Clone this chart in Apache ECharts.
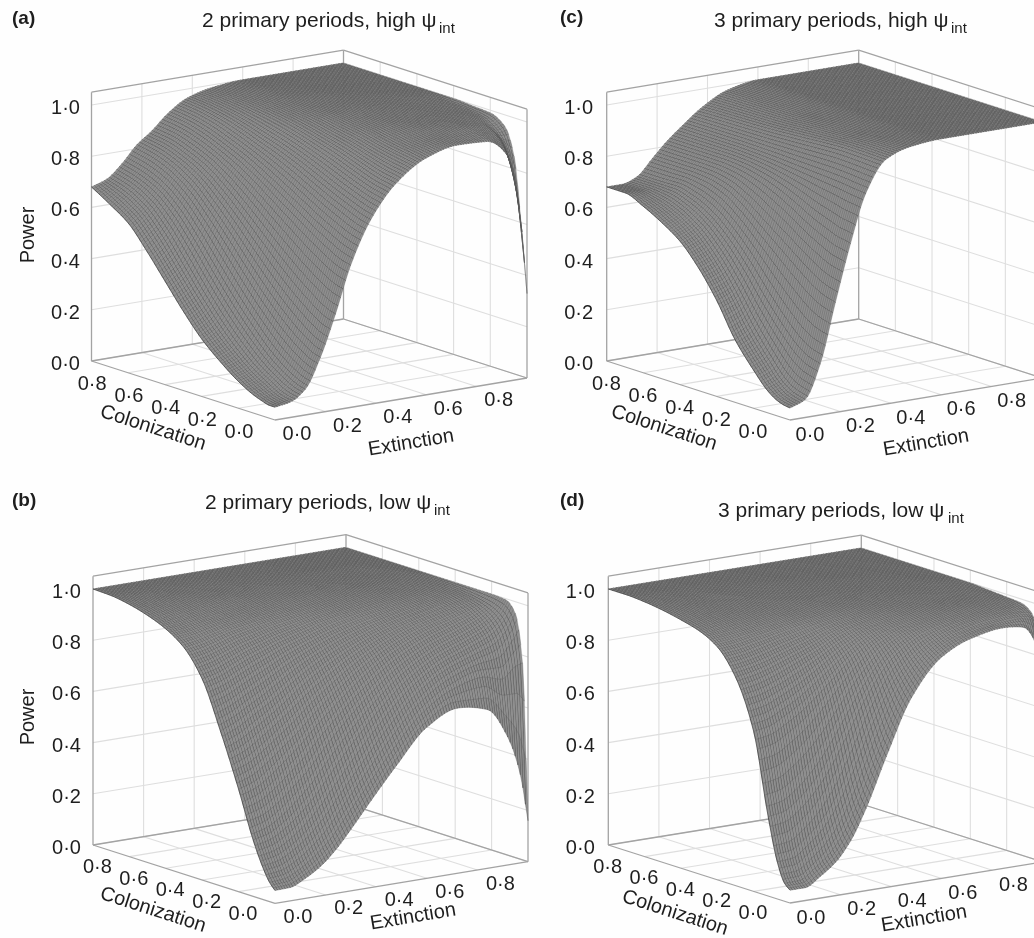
<!DOCTYPE html>
<html><head><meta charset="utf-8">
<style>html,body{margin:0;padding:0;background:#fff}#c{width:1034px;height:938px}</style>
<script src="https://cdn.jsdelivr.net/npm/echarts@6/dist/echarts.min.js"></script>
</head><body><div id="c"></div>
<script>
const extinctionSamples = [0,.06,.12,.18,.24,.3,.38,.48,.6,.72,.84,.92,.97,1];
const colonizationSamples = [0,.03,.07,.12,.2,.3,.4,.5,.6,.7,.8,.9,1];
// One row per extinction sample, one column per colonization sample
const powerA = [
[.05,.05,.058,.072,.105,.16,.225,.31,.405,.50,.585,.635,.68],
[.06,.062,.07,.09,.125,.185,.26,.35,.45,.55,.63,.675,.70],
[.10,.105,.118,.14,.185,.26,.345,.44,.54,.63,.695,.73,.75],
[.215,.22,.235,.26,.31,.385,.47,.56,.645,.72,.77,.80,.815],
[.375,.38,.395,.42,.465,.53,.60,.67,.735,.79,.825,.85,.86],
[.555,.56,.57,.59,.625,.675,.725,.775,.82,.855,.885,.905,.915],
[.72,.725,.735,.75,.775,.81,.845,.875,.90,.925,.945,.958,.965],
[.845,.85,.855,.865,.885,.91,.93,.95,.965,.975,.982,.987,.99],
[.925,.93,.935,.94,.95,.965,.975,.985,.99,.995,.998,1,1],
[.955,.96,.965,.97,.98,.985,.99,.995,.998,1,1,1,1],
[.95,.96,.97,.98,.985,.99,.995,.998,1,1,1,1,1],
[.885,.92,.95,.97,.985,.99,.995,1,1,1,1,1,1],
[.665,.78,.89,.945,.98,.99,.995,1,1,1,1,1,1],
[.33,.58,.85,.955,.99,.995,1,1,1,1,1,1,1]];
const powerB = [
[.05,.075,.13,.22,.40,.605,.785,.885,.935,.965,.985,.997,1],
[.052,.08,.14,.235,.42,.63,.80,.895,.94,.97,.987,.997,1],
[.078,.108,.17,.27,.46,.665,.825,.91,.95,.975,.99,.998,1],
[.115,.15,.215,.32,.51,.70,.85,.925,.958,.98,.992,.998,1],
[.17,.205,.275,.38,.56,.74,.87,.935,.965,.985,.994,.999,1],
[.24,.28,.35,.455,.62,.78,.89,.945,.97,.988,.995,.999,1],
[.34,.38,.45,.55,.69,.825,.91,.955,.977,.99,.997,1,1],
[.46,.505,.57,.655,.77,.87,.935,.967,.985,.993,.998,1,1],
[.59,.635,.695,.76,.845,.91,.955,.977,.99,.996,.999,1,1],
[.645,.71,.775,.83,.895,.94,.97,.985,.993,.997,1,1,1],
[.62,.74,.82,.875,.93,.965,.982,.99,.996,.998,1,1,1],
[.50,.72,.85,.91,.955,.98,.99,.995,.998,1,1,1,1],
[.345,.76,.90,.95,.975,.988,.995,.998,1,1,1,1,1],
[.16,.77,.955,.995,1,1,1,1,1,1,1,1,1]];
const powerC = [
[.047,.05,.06,.085,.15,.245,.375,.48,.56,.61,.65,.68,.68],
[.07,.075,.085,.11,.18,.28,.40,.505,.585,.635,.665,.68,.68],
[.20,.205,.215,.24,.30,.39,.49,.575,.64,.68,.70,.70,.70],
[.43,.435,.445,.465,.51,.57,.63,.69,.735,.755,.76,.76,.76],
[.65,.655,.66,.675,.70,.74,.775,.80,.815,.82,.82,.82,.82],
[.835,.837,.84,.845,.85,.855,.86,.865,.868,.87,.87,.87,.87],
[.955,.955,.956,.957,.958,.955,.95,.945,.94,.937,.935,.933,.93],
[.99,.99,.99,.99,.988,.985,.985,.983,.98,.98,.98,.98,.98],
[1,1,1,1,1,1,1,1,1,1,1,1,1],
[1,1,1,1,1,1,1,1,1,1,1,1,1],
[1,1,1,1,1,1,1,1,1,1,1,1,1],
[1,1,1,1,1,1,1,1,1,1,1,1,1],
[1,1,1,1,1,1,1,1,1,1,1,1,1],
[1,1,1,1,1,1,1,1,1,1,1,1,1]];
const powerD = [
[.05,.07,.145,.31,.625,.815,.91,.95,.97,.985,.995,1,1],
[.05,.072,.15,.32,.635,.825,.915,.955,.975,.988,.996,1,1],
[.085,.11,.19,.36,.665,.84,.925,.96,.978,.99,.997,1,1],
[.13,.16,.245,.42,.70,.86,.935,.965,.98,.99,.997,1,1],
[.205,.24,.33,.50,.745,.88,.945,.97,.983,.992,.998,1,1],
[.32,.36,.45,.60,.795,.90,.955,.975,.986,.994,.998,1,1],
[.51,.55,.63,.735,.86,.93,.965,.98,.99,.995,.999,1,1],
[.725,.755,.80,.86,.92,.955,.977,.987,.993,.997,1,1,1],
[.865,.88,.90,.93,.955,.975,.985,.992,.996,.999,1,1,1],
[.92,.93,.945,.96,.975,.985,.992,.996,.998,1,1,1,1],
[.94,.95,.965,.975,.985,.99,.995,.998,1,1,1,1,1],
[.93,.955,.97,.98,.988,.993,.997,1,1,1,1,1,1],
[.86,.945,.97,.982,.99,.995,.998,1,1,1,1,1,1],
[.60,.90,.965,.985,.99,.995,1,1,1,1,1,1,1]];
const powerTicks = [0,.2,.4,.6,.8,1];
const extinctionTicks = [0,.2,.4,.6,.8];
const colonizationTicks = [0,.2,.4,.6,.8];
const tickText = v => v.toFixed(1).replace('.', '·');

const FONT = '"Liberation Sans", Arial, sans-serif';
const BOX_TOP = 1.05;
const MESH = 100; // drawn mesh resolution; values between read samples follow a monotone smooth curve (like a smoothed line)
// Panel layout: projected corners of the floor, in canvas units
const panels = [
 {name:'(a)',nameX:12,nameY:19,title:'2 primary periods, high ψ',titleX:202,titleY:21,subX:439,subY:28.5,power:powerA,
  F:[275,420],R:[527,378],L:[91.5,361],showPower:true,powerName:[28,235],colName:[153,428],extName:[411,443],colOff:[-36,12],extOff:[22,14.5],zOff:-26},
 {name:'(c)',nameX:560,nameY:18,title:'3 primary periods, high ψ',titleX:714,titleY:21,subX:951,subY:28.5,power:powerC,
  F:[790,420],R:[1042,378],L:[606.7,361],colName:[664,428],extName:[926,443],colOff:[-37,12],extOff:[20,15],zOff:-28},
 {name:'(b)',nameX:12,nameY:501,title:'2 primary periods, low ψ',titleX:205,titleY:503,subX:434,subY:511,power:powerB,
  F:[275,903.3],R:[528,861.7],L:[93,845],showPower:true,powerName:[28,717],colName:[153,910],extName:[413,917],colOff:[-32,11],extOff:[23,14],zOff:-26.5},
 {name:'(d)',nameX:560,nameY:501,title:'3 primary periods, low ψ',titleX:718,titleY:511,subX:948,subY:519,power:powerD,
  F:[790,903],R:[1043,862],L:[608.3,845],colName:[675,913],extName:[924,919],colOff:[-37,10.5],extOff:[21,15],zOff:-28}
];
const DZ = 256;

function project(p, e, c, z){
  return [p.F[0]+e*(p.R[0]-p.F[0])+c*(p.L[0]-p.F[0]),
          p.F[1]+e*(p.R[1]-p.F[1])+c*(p.L[1]-p.F[1])-z*DZ];
}
// monotone cubic through read samples
function tangents(xs, ys){
  const n=xs.length,d=[],m=new Array(n);
  for(let i=0;i<n-1;i++)d.push((ys[i+1]-ys[i])/(xs[i+1]-xs[i]));
  m[0]=d[0];m[n-1]=d[n-2];
  for(let i=1;i<n-1;i++){
    if(d[i-1]*d[i]<=0)m[i]=0;
    else{const h0=xs[i]-xs[i-1],h1=xs[i+1]-xs[i],w1=2*h1+h0,w2=h1+2*h0;m[i]=(w1+w2)/(w1/d[i-1]+w2/d[i]);}
  }
  return m;
}
function evalCurve(xs, ys, m, x){
  let k=0;while(k<xs.length-2&&x>xs[k+1])k++;
  const h=xs[k+1]-xs[k],t=(x-xs[k])/h,t2=t*t,t3=t2*t;
  return (2*t3-3*t2+1)*ys[k]+(t3-2*t2+t)*h*m[k]+(-2*t3+3*t2)*ys[k+1]+(t3-t2)*h*m[k+1];
}
function meshOf(table){
  const fineC=[];for(let l=0;l<=MESH;l++)fineC.push(l/MESH);
  const rows=table.map(r=>{const m=tangents(colonizationSamples,r);return fineC.map(c=>evalCurve(colonizationSamples,r,m,c));});
  const out=[];for(let i=0;i<=MESH;i++)out.push([]);
  fineC.forEach((_,l)=>{
    const col=rows.map(r=>r[l]);const m=tangents(extinctionSamples,col);
    for(let i=0;i<=MESH;i++)out[i].push(evalCurve(extinctionSamples,col,m,i/MESH));
  });
  return out;
}
function frameItems(){
  const items=[];
  const strong='#a3a3a3',faint='#dedede';
  powerTicks.forEach(z=>{ items.push([0,1,z,1,1,z,0]); items.push([1,1,z,1,0,z,0]); });
  [.2,.4,.6,.8].forEach(v=>{
    items.push([v,1,0,v,1,BOX_TOP,0]);
    items.push([1,v,0,1,v,BOX_TOP,0]);
    items.push([v,0,0,v,1,0,0]);
    items.push([0,v,0,1,v,0,0]);
  });
  [[0,1,0,1,1,0],[1,1,0,1,0,0],[0,0,0,0,1,0],[0,0,0,1,0,0],
   [0,1,BOX_TOP,1,1,BOX_TOP],[1,1,BOX_TOP,1,0,BOX_TOP],
   [0,1,0,0,1,BOX_TOP],[1,1,0,1,1,BOX_TOP],[1,0,0,1,0,BOX_TOP]].forEach(a=>items.push([...a,1]));
  return {items,strong,faint};
}
const series=[];
const frame=frameItems();
panels.forEach(p=>{
  series.push({type:'custom',coordinateSystem:'cartesian2d',silent:true,animation:false,clip:false,z:1,
    encode:{x:0,y:1},progressive:0,
    data:frame.items,
    renderItem(params,api){
      const a=frame.items[params.dataIndex];
      const s=api.coord(project(p,a[0],a[1],a[2])),t=api.coord(project(p,a[3],a[4],a[5]));
      return {type:'line',shape:{x1:s[0],y1:s[1],x2:t[0],y2:t[1]},
        style:{stroke:a[6]?frame.strong:frame.faint,lineWidth:a[6]?1.3:1.1,fill:null}};
    }});
  const mesh=meshOf(p.power);
  const strips=[];for(let i=MESH-1;i>=0;i--)strips.push([i,0]);
  series.push({type:'custom',coordinateSystem:'cartesian2d',silent:true,animation:false,clip:false,z:2,
    encode:{x:0,y:1},progressive:0,
    data:strips,
    renderItem(params,api){
      const i=strips[params.dataIndex][0];
      const a=[],b=[],zig=[];
      for(let l=0;l<=MESH;l++){
        const c=l/MESH;
        a.push(api.coord(project(p,i/MESH,c,mesh[i][l])));
        b.push(api.coord(project(p,(i+1)/MESH,c,mesh[i+1][l])));
      }
      for(let l=0;l<=MESH;l++){ if(l%2===0){zig.push(a[l],b[l]);}else{zig.push(b[l],a[l]);} }
      return {type:'group',children:[
        {type:'polygon',shape:{points:a.concat(b.slice().reverse())},style:{fill:'#8f8f8f',stroke:'#8f8f8f',lineWidth:.3}},
        {type:'polyline',shape:{points:zig},style:{stroke:'#2e2e2e',lineWidth:.2,fill:null}},
        {type:'polyline',shape:{points:a},style:{stroke:'#2e2e2e',lineWidth:.62,fill:null}}
      ]};
    }});
  // labels
  const labels=[];
  const txt=(s,x,y,font,opt)=>labels.push(Object.assign({s,x,y,font,align:'center',rot:0},opt||{}));
  txt(p.name,p.nameX,p.nameY,'bold 19px '+FONT,{align:'left'});
  txt(p.title,p.titleX,p.titleY,'21px '+FONT,{align:'left'});
  txt('int',p.subX,p.subY,'15px '+FONT,{align:'left'});
  powerTicks.forEach(z=>{const q=project(p,0,1,z);txt(tickText(z),q[0]+p.zOff,q[1]+3.5,'20px '+FONT);});
  colonizationTicks.forEach(v=>{const q=project(p,0,v,0);txt(tickText(v),q[0]+p.colOff[0],q[1]+p.colOff[1],'20px '+FONT);});
  extinctionTicks.forEach(v=>{const q=project(p,v,0,0);txt(tickText(v),q[0]+p.extOff[0],q[1]+p.extOff[1],'20px '+FONT);});
  txt('Colonization',p.colName[0],p.colName[1],'20px '+FONT,{rot:-17.8});
  txt('Extinction',p.extName[0],p.extName[1],'20px '+FONT,{rot:9.5});
  if(p.showPower)txt('Power',p.powerName[0],p.powerName[1],'20px '+FONT,{rot:90});
  series.push({type:'custom',coordinateSystem:'cartesian2d',silent:true,animation:false,clip:false,z:3,
    encode:{x:0,y:1},progressive:0,
    data:labels.map(l=>[l.x,l.y]),
    renderItem(params,api){
      const l=labels[params.dataIndex];
      const q=api.coord([l.x,l.y]);
      return {type:'text',x:q[0],y:q[1],rotation:l.rot*Math.PI/180,
        style:{text:l.s,font:l.font,fill:'#1e1e1e',textAlign:l.align,textVerticalAlign:'middle'}};
    }});
});
const chart=echarts.init(document.getElementById('c'),null,{renderer:'canvas',width:1034,height:938});
chart.setOption({
  animation:false,backgroundColor:'#fefefe',
  grid:{left:0,right:0,top:0,bottom:0},
  xAxis:{type:'value',min:0,max:1034,show:false},
  yAxis:{type:'value',min:0,max:938,inverse:true,show:false},
  tooltip:{show:false},
  series
});
</script></body></html>
